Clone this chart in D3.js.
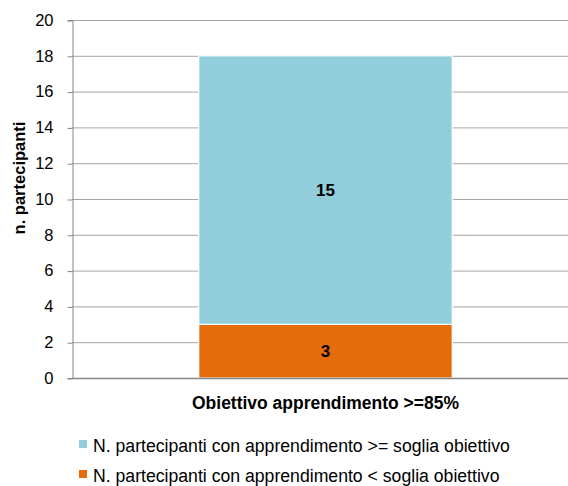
<!DOCTYPE html>
<html><head><meta charset="utf-8">
<script src="https://cdn.jsdelivr.net/npm/d3@7"></script>
<style>body{margin:0;background:#fff}svg{display:block}text{font-family:"Liberation Sans",Arial,sans-serif}</style>
</head><body>
<svg id="c" width="568" height="486"></svg>
<script>
const categories = ["Obiettivo apprendimento >=85%"];
const seriesNames = ["N. partecipanti con apprendimento < soglia obiettivo",
                     "N. partecipanti con apprendimento >= soglia obiettivo"];
const seriesValues = [[3],[15]];
const seriesColors = ["#E46C0A","#92CDDC"];
const yTicks = [0,2,4,6,8,10,12,14,16,18,20];
const yTitle = "n. partecipanti";

const svg = d3.select("#c");
const m = {left:72, top:20, right:579, bottom:378};
const y = d3.scaleLinear().domain([0,20]).range([m.bottom, m.top]);
const x = d3.scaleBand().domain(categories).range([m.left, m.right]).paddingInner(0.5).paddingOuter(0.25);

// gridlines
svg.append("g").selectAll("line").data(yTicks.filter(d=>d>0)).join("line")
  .attr("x1", m.left).attr("x2", m.right)
  .attr("y1", d=>y(d)+0.5).attr("y2", d=>y(d)+0.5)
  .attr("stroke","#a6a6a6").attr("stroke-width",1);

// y axis
const ya = svg.append("g").attr("transform",`translate(${m.left+0.5},0)`)
  .call(d3.axisLeft(y).tickValues(yTicks).tickSize(5).tickPadding(14));
ya.select(".domain").attr("stroke","#868686");
ya.selectAll(".tick line").attr("stroke","#868686").attr("transform","translate(0,0.5)");
ya.selectAll(".tick text").attr("font-size",16.5).attr("fill","#000")
  .attr("font-family",'"Liberation Sans",Arial,sans-serif');

// stacked bars
const stack = [];
let base = 0;
seriesValues.forEach((vals,i)=>{ stack.push({i, y0:base, y1:base+vals[0], v:vals[0]}); base += vals[0]; });
const bx = x(categories[0]), bw = x.bandwidth();
const cx = bx + bw/2;
svg.append("g").selectAll("rect").data(stack).join("rect")
  .attr("x", bx).attr("width", bw)
  .attr("y", d=>y(d.y1)).attr("height", d=>y(d.y0)-y(d.y1))
  .attr("fill", d=>seriesColors[d.i]).attr("stroke","#fff").attr("stroke-width",1.2);

svg.append("g").selectAll("text").data(stack).join("text")
  .attr("x", cx).attr("y", d=>(y(d.y0)+y(d.y1))/2 + 6)
  .attr("text-anchor","middle").attr("font-weight","bold").attr("font-size",17)
  .text(d=>d.v);

// x axis line
svg.append("line").attr("x1",m.left).attr("x2",m.right).attr("y1",m.bottom+0.5).attr("y2",m.bottom+0.5)
  .attr("stroke","#868686").attr("stroke-width",1.6);

// category label
const cat = svg.append("text").attr("x", cx).attr("y", 409).attr("text-anchor","middle")
  .attr("font-weight","bold").attr("font-size",15).text(categories[0]);
function fit(sel, target){ const w = sel.node().getComputedTextLength(); const fs = parseFloat(sel.attr("font-size")); sel.attr("font-size", fs*target/w); }
fit(cat, 267);

// y title
svg.append("text").attr("transform",`translate(25,178) rotate(-90)`)
  .attr("text-anchor","middle").attr("font-weight","bold").attr("font-size",16.5).text(yTitle);

// legend
const leg = [{i:1, yy:452},{i:0, yy:482}];
let legFs = 15.5;
leg.forEach((l,k)=>{
  svg.append("rect").attr("x",79).attr("y",l.yy-12).attr("width",8).attr("height",8).attr("fill",seriesColors[l.i]);
  const t = svg.append("text").attr("x",93).attr("y",l.yy).attr("font-size",legFs).text(seriesNames[l.i]);
  if(k===0){ fit(t, 417); legFs = parseFloat(t.attr("font-size")); }
});
</script>
</body></html>
